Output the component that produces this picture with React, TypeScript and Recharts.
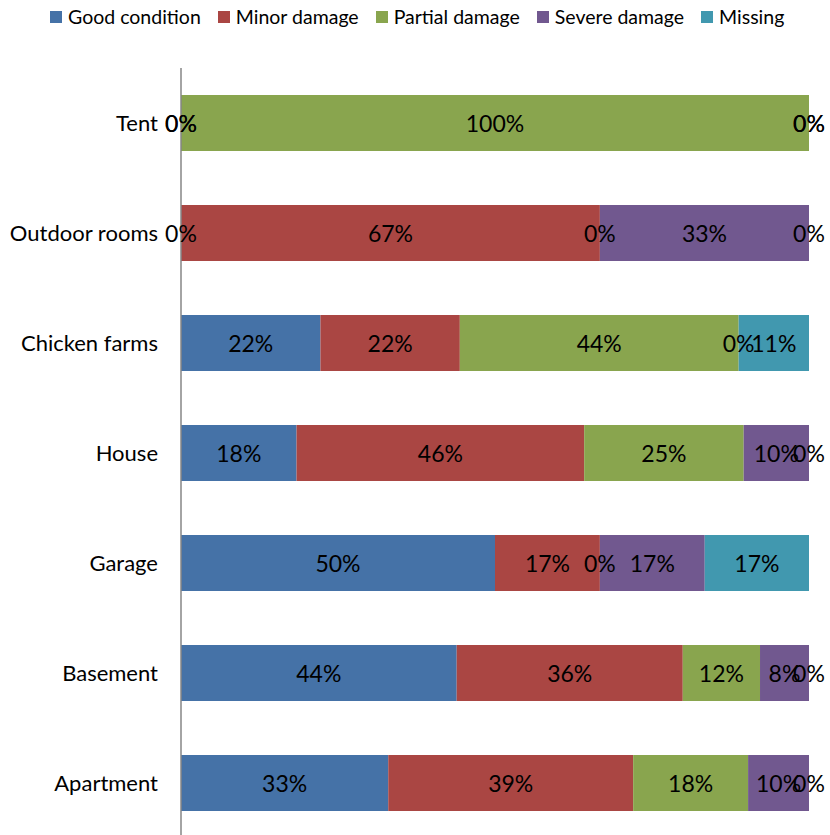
import React from "react";
import { BarChart, Bar, XAxis, YAxis, Legend, LabelList } from "recharts";

const categories = ["Tent", "Outdoor rooms", "Chicken farms", "House", "Garage", "Basement", "Apartment"];

// percentages per category
const goodCondition = [0, 0, 22.2, 18.4, 50, 43.9, 33];
const minorDamage = [0, 66.7, 22.2, 45.8, 16.7, 36, 39];
const partialDamage = [100, 0, 44.4, 25.4, 0, 12.3, 18.3];
const severeDamage = [0, 33.3, 0, 10.4, 16.7, 7.8, 9.7];
const missing = [0, 0, 11.2, 0, 16.6, 0, 0];

const SERIES = [
  { key: "good", name: "Good condition", color: "#4572A7", values: goodCondition },
  { key: "minor", name: "Minor damage", color: "#AA4643", values: minorDamage },
  { key: "partial", name: "Partial damage", color: "#89A54E", values: partialDamage },
  { key: "severe", name: "Severe damage", color: "#71588F", values: severeDamage },
  { key: "missing", name: "Missing", color: "#4198AF", values: missing },
];

const data = categories.map((name, i) => {
  const row: Record<string, any> = { name };
  SERIES.forEach((s) => (row[s.key] = s.values[i]));
  return row;
});

const FONT = "Lato, 'Open Sans', sans-serif";
const LABEL_STYLE = { fontSize: 23, fill: "#000", fontFamily: FONT };

const pct = (v: number) => `${Math.round(v)}%`;

// zero-width segments get no rectangle, so their "0%" labels are drawn by the
// neighbouring non-zero segment at its left edge (zeros before it) and, for the
// last non-zero segment of a row, at its right edge (zeros after it).
// The label value carries the category name so the row can be looked up.
const makeLabel = (si: number) => (props: any) => {
  const { x, y, width, height, value } = props;
  const row = categories.indexOf(value);
  if (row < 0) return null;
  const values = SERIES.map((s) => s.values[row]);
  if (!values[si]) return null;
  const cy = Number(y) + Number(height) / 2;
  const out: React.ReactNode[] = [];
  const text = (key: string, cx: number, label: string) => (
    <text key={key} x={cx} y={cy} textAnchor="middle" dominantBaseline="central" style={LABEL_STYLE}>
      {label}
    </text>
  );
  out.push(text("self", Number(x) + Number(width) / 2, pct(values[si])));
  for (let j = si - 1; j >= 0 && !values[j]; j--) out.push(text(`b${j}`, Number(x), "0%"));
  const lastNonZero = values.reduce((acc, v, j) => (v ? j : acc), -1);
  if (lastNonZero === si) {
    for (let j = si + 1; j < values.length; j++) out.push(text(`a${j}`, Number(x) + Number(width), "0%"));
  }
  return <g>{out}</g>;
};

const LegendContent = () => (
  <div style={{ height: 68 }}>
    <div
      style={{
        display: "flex",
        alignItems: "center",
        height: 33,
        fontFamily: FONT,
        fontSize: 19.5,
        color: "#000",
        paddingLeft: 50,
        whiteSpace: "nowrap",
      }}
    >
      {SERIES.map((s, i) => (
        <div
          key={s.key}
          style={{ display: "flex", alignItems: "center", flexShrink: 0, marginRight: i < SERIES.length - 1 ? 17 : 0 }}
        >
          <span style={{ width: 12, height: 12, background: s.color, display: "inline-block", marginRight: 6 }} />
          <span>{s.name}</span>
        </div>
      ))}
    </div>
  </div>
);

export default function App() {
  return (
    <div style={{ position: "absolute", left: 0, top: 0, width: 830, height: 835, background: "#fff" }}>
      <BarChart
        width={830}
        height={835}
        data={data}
        layout="vertical"
        barSize={56}
        margin={{ top: 0, right: 21, left: 0, bottom: -3 }}
      >
        <XAxis type="number" domain={[0, 100]} hide />
        <YAxis
          type="category"
          dataKey="name"
          width={181}
          tickLine={false}
          tickMargin={17}
          axisLine={{ stroke: "#868686", strokeWidth: 1.5 }}
          tick={{ fontSize: 22, fill: "#000", fontFamily: FONT }}
        />
        <Legend verticalAlign="top" content={<LegendContent />} />
        {SERIES.map((s, si) => (
          <Bar key={s.key} dataKey={s.key} name={s.name} stackId="a" fill={s.color} isAnimationActive={false}>
            <LabelList valueAccessor={(entry: any) => entry?.payload?.name} content={makeLabel(si)} />
          </Bar>
        ))}
      </BarChart>
    </div>
  );
}
